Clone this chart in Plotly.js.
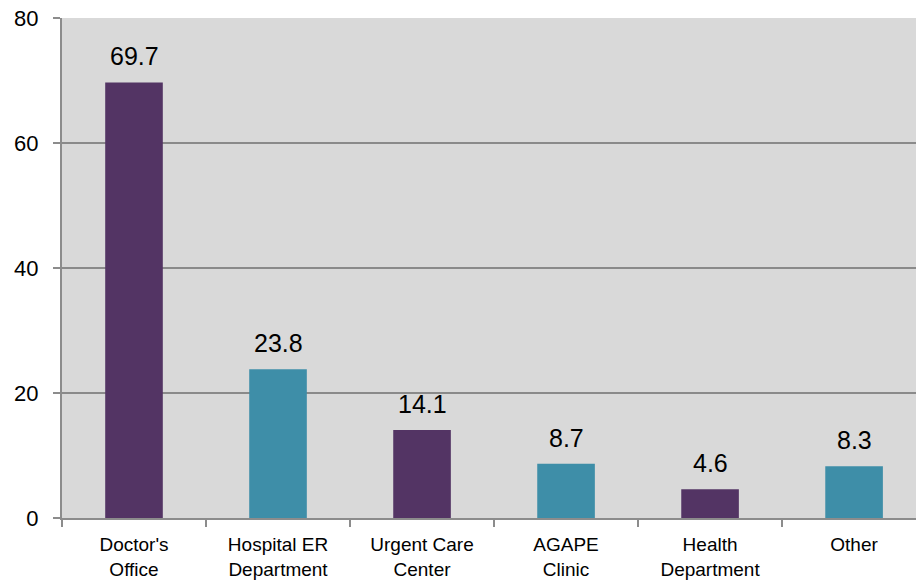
<!DOCTYPE html>
<html>
<head>
<meta charset="utf-8">
<script src="https://cdn.plot.ly/plotly-3.0.1.min.js"></script>
<style>html,body{margin:0;padding:0;background:#fff;}#chart{width:916px;height:583px;}</style>
</head>
<body>
<div id="chart"></div>
<script>
const categories = ["Doctor's<br>Office", "Hospital ER<br>Department", "Urgent Care<br>Center", "AGAPE<br>Clinic", "Health<br>Department", "Other"];
const values = [69.7, 23.8, 14.1, 8.7, 4.6, 8.3];
const barColors = ["#533464", "#3e8ea8", "#533464", "#3e8ea8", "#533464", "#3e8ea8"];
const yTicks = [0, 20, 40, 60, 80];

const FONT = "Liberation Sans, Arial, sans-serif";

const trace = {
  type: 'bar',
  x: categories,
  y: values,
  width: 0.4,
  marker: {color: barColors},
  hoverinfo: 'skip'
};

const annotations = values.map((v, i) => ({
  x: categories[i], y: v, xref: 'x', yref: 'y',
  text: v.toFixed(1), showarrow: false,
  yanchor: 'bottom', yshift: 10,
  font: {family: FONT, size: 25, color: '#000'}
}));

const layout = {
  width: 916, height: 583,
  margin: {l: 62, r: 0, t: 18, b: 65},
  paper_bgcolor: '#ffffff',
  plot_bgcolor: '#d9d9d9',
  showlegend: false,
  xaxis: {
    type: 'category',
    range: [-0.5, 5.43],
    tickson: 'boundaries',
    ticks: 'outside', ticklen: 7, tickwidth: 2, tickcolor: '#8c8c8c',
    showline: true, linecolor: '#8c8c8c', linewidth: 2,
    showgrid: false,
    tickfont: {family: FONT, size: 19, color: '#000'},
    ticklabelstandoff: 8,
    fixedrange: true
  },
  yaxis: {
    range: [0, 80],
    tickvals: yTicks,
    ticktext: yTicks.map(String),
    ticks: 'outside', ticklen: 7, tickwidth: 2, tickcolor: '#8c8c8c',
    showline: true, linecolor: '#8c8c8c', linewidth: 2,
    showgrid: true, gridcolor: '#8a8a8a', gridwidth: 2,
    zeroline: false,
    tickfont: {family: FONT, size: 22, color: '#000'},
    ticklabelstandoff: 10,
    fixedrange: true
  },
  annotations: annotations
};

Plotly.newPlot('chart', [trace], layout, {staticPlot: true, displayModeBar: false});
</script>
</body>
</html>
